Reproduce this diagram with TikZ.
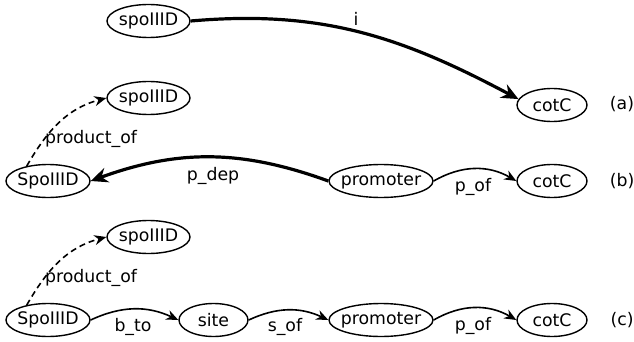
\documentclass[tikz,border=0pt]{standalone}
\usepackage{fontspec}
\setmainfont{DejaVu Sans}
\usetikzlibrary{shapes.geometric,arrows.meta}
\begin{document}
\begin{tikzpicture}[x=1pt,y=1pt,
  ent/.style={ellipse,draw,line width=1.4pt,inner xsep=-30pt,inner ysep=-10pt,minimum height=33pt,font=\fontsize{17.3}{19}\selectfont},
  lbl/.style={anchor=base,inner sep=0pt,font=\fontsize{17.3}{19}\selectfont},
  heavyarrow/.style={line width=3.2pt,-{Stealth[length=17pt,width=15pt]}},
  lightarrow/.style={line width=1.6pt,-{Stealth[length=12pt,width=10pt]}}]
\useasboundingbox (0,0) rectangle (634,-342);
% row (a)
\node[ent,minimum width=83pt] (sa) at (148.5,-21) {spoIIID};
\node[ent,minimum width=70pt] (ca) at (552,-105) {cotC};
\node[lbl] (la) at (622,-110) {(a)};
% row (b)
\node[ent,minimum width=83pt] (sb) at (148.5,-98) {spoIIID};
\node[ent,minimum width=84pt] (Sb) at (48,-181) {SpoIIID};
\node[ent,minimum width=104pt] (pb) at (381,-181) {promoter};
\node[ent,minimum width=70pt] (cb) at (552,-181) {cotC};
\node[lbl] (lb) at (622,-186) {(b)};
% row (c)
\node[ent,minimum width=83pt] (sc) at (148.5,-237) {spoIIID};
\node[ent,minimum width=84pt] (Sc) at (48,-320) {SpoIIID};
\node[ent,minimum width=69pt] (tc) at (213.5,-320) {site};
\node[ent,minimum width=104pt] (pc) at (381,-320) {promoter};
\node[ent,minimum width=70pt] (cc) at (552,-320) {cotC};
\node[lbl] (lc) at (622,-325) {(c)};
% edges (a)
\draw[heavyarrow] (sa.east) to[out=5,in=152] (ca.170);
\node[lbl] (li) at (356,-26) {i};
% edges (b)
\draw[heavyarrow] (pb.west) to[out=160,in=20] (Sb.east);
\node[lbl] (lpd) at (213,-180) {p\_dep};
\draw[lightarrow] (pb.east) to[bend left=30] (cb.west);
\node[lbl] (lpo1) at (473,-191.5) {p\_of};
\draw[lightarrow,dash pattern=on 6pt off 4pt] (Sb.145) to[out=60,in=195] (sb.west);
\node[lbl] (lprod1) at (91,-143) {product\_of};
% edges (c)
\draw[lightarrow,dash pattern=on 6pt off 4pt] (Sc.145) to[out=60,in=195] (sc.west);
\node[lbl] (lprod2) at (91,-282) {product\_of};
\draw[lightarrow] (Sc.east) to[bend left=25] (tc.west);
\node[lbl] (lbt) at (133,-331.5) {b\_to};
\draw[lightarrow] (tc.east) to[bend left=25] (pc.west);
\node[lbl] (lso) at (285,-331.5) {s\_of};
\draw[lightarrow] (pc.east) to[bend left=30] (cc.west);
\node[lbl] (lpo2) at (473,-330.5) {p\_of};
\end{tikzpicture}
\end{document}
